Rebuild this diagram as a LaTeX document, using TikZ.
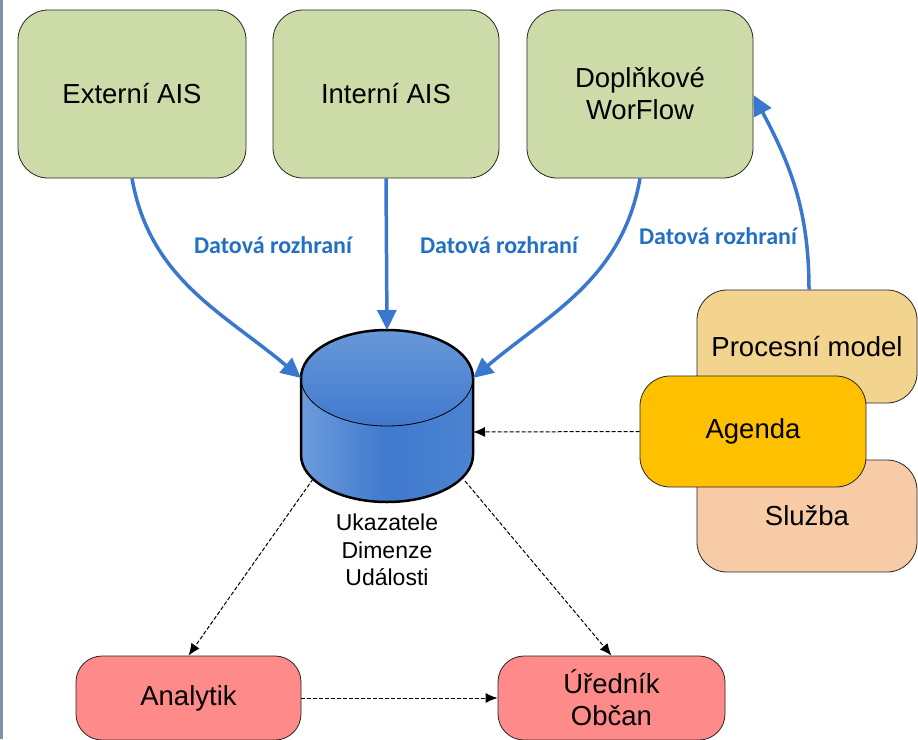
\documentclass[tikz,border=0pt]{standalone}
\usepackage{fontspec}
\setmainfont{Liberation Sans}
\newfontfamily\rozfont{Carlito}
\usetikzlibrary{arrows.meta}
\definecolor{aisgreen}{HTML}{CDDBA9}
\definecolor{procyellow}{HTML}{F2D48E}
\definecolor{agendaorange}{HTML}{FFC000}
\definecolor{sluzbapeach}{HTML}{F8CBA7}
\definecolor{userred}{HTML}{FF8A8A}
\definecolor{arrowblue}{HTML}{3A78D0}
\definecolor{labelblue}{HTML}{2270C4}
\definecolor{edgegray}{HTML}{8090A8}
\definecolor{cylL}{HTML}{6C9CDC}
\definecolor{cylM}{HTML}{4079CD}
\definecolor{cylR}{HTML}{4C84D2}
\definecolor{cylTop}{HTML}{6898D8}
\tikzset{
  blok/.style={draw=black!85,line width=0.8pt,rounded corners=30pt,align=center,inner sep=0pt,font=\fontsize{27.5}{32}\selectfont},
  datarrow/.style={draw=arrowblue,line width=3.5pt,-{Triangle[length=20pt,width=19pt]}},
  tok/.style={dash pattern=on 4pt off 2pt,line width=1pt,-{Latex[length=12pt,width=10pt]}},
  rozlabel/.style={text=labelblue,font=\rozfont\bfseries\fontsize{24}{28}\selectfont}
}
\begin{document}
\begin{tikzpicture}[x=1pt,y=1pt]
\useasboundingbox(0,0)rectangle(918,-739);
\fill[edgegray](0,0)rectangle(3,-739);
% zdroje dat
\node[blok,fill=aisgreen,minimum width=228,minimum height=168](ext)at(132,-94){Externí AIS};
\node[blok,fill=aisgreen,minimum width=226,minimum height=168](int)at(386,-94){Interní AIS};
\node[blok,fill=aisgreen,minimum width=226,minimum height=168](dop)at(640,-94){Doplňkové\\WorFlow};
% uloziste
\shade[left color=cylL,right color=cylR,middle color=cylM](301,-378)--(301,-455)arc[start angle=180,end angle=360,x radius=86pt,y radius=47pt]--(473,-378)--cycle;
\shade[top color=cylTop,bottom color=cylM](387,-378)ellipse[x radius=86pt,y radius=48pt];
\draw[line width=0.8pt](301,-378)arc[start angle=180,end angle=360,x radius=86pt,y radius=48pt];
\draw[line width=2.5pt](301,-378)--(301,-455)arc[start angle=180,end angle=360,x radius=86pt,y radius=47pt]--(473,-378)arc[start angle=0,end angle=180,x radius=86pt,y radius=48pt]--cycle;
\coordinate(dbT)at(387,-330);
\coordinate(dbTL)at(301,-378);
\coordinate(dbTR)at(473,-378);
\coordinate(dbR)at(473,-432);
\coordinate(dbBL)at(313,-479);
\coordinate(dbBR)at(465,-481);
\node[align=center,font=\fontsize{23}{27.5}\selectfont](ukaz)at(387,-550){Ukazatele\\Dimenze\\Události};
% agenda
\node[blok,fill=procyellow,minimum width=220,minimum height=113](proc)at(807,-346.5){Procesní model};
\node[blok,fill=sluzbapeach,minimum width=220,minimum height=112](sluz)at(807,-516){Služba};
\node[blok,fill=agendaorange,minimum width=226,minimum height=111](agen)at(753,-431.5){Agenda};
% uzivatele
\node[blok,fill=userred,rounded corners=26pt,minimum width=225,minimum height=84](anal)at(188.5,-698){Analytik};
\node[blok,fill=userred,rounded corners=26pt,minimum width=227,minimum height=84](ured)at(611.5,-698){Úředník\\Občan};
% datova rozhrani
\draw[datarrow](ext.south)to[out=-80,in=140](dbTL);
\draw[datarrow](int.south)--(dbT);
\draw[datarrow](dop.south)to[out=-100,in=40](dbTR);
\draw[datarrow](proc.north-|809,0)to[out=90,in=-62](dop.east|-0,-95);
\node[rozlabel](roz1)at(273,-245){Datová rozhraní};
\node[rozlabel](roz2)at(499,-245){Datová rozhraní};
\node[rozlabel](roz3)at(718,-236){Datová rozhraní};
% toky
\draw[tok](agen.west)--(dbR);
\draw[tok](dbBL)--(anal.north);
\draw[tok](dbBR)--(ured.north);
\draw[tok](anal.east)--(ured.west);
\end{tikzpicture}
\end{document}
